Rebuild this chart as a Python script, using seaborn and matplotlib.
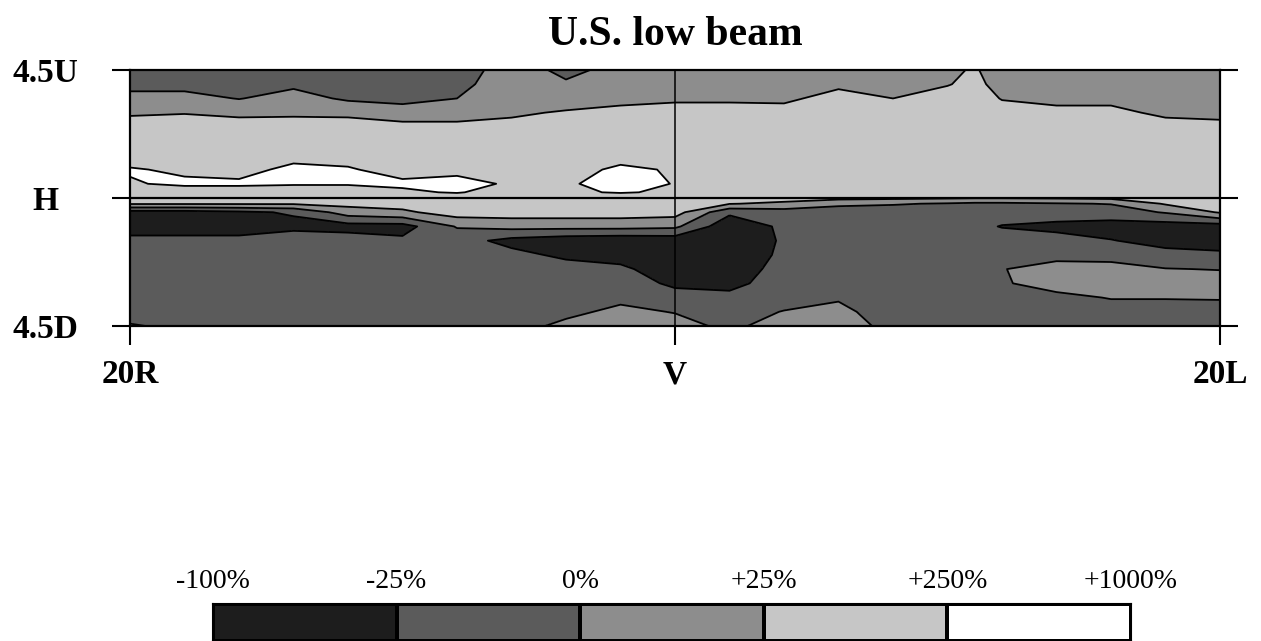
import numpy as np
import matplotlib
matplotlib.use("Agg")
import matplotlib.pyplot as plt
from matplotlib.colors import ListedColormap
import seaborn as sns

# horizontal angle (deg, negative = right) and vertical angle (deg, positive = up)
h_deg = [-20, -18, -16, -14, -12, -10, -8, -6, -4, -2, 0, 2, 4, 6, 8, 10, 11, 12, 14, 16, 18, 20]
v_deg = [4.5, 4.0, 3.5, 3.0, 2.5, 2.0, 1.5, 1.0, 0.5, 0.2, 0.0, -0.2, -0.5,
         -1.0, -1.5, -2.0, -2.5, -3.0, -3.5, -4.0, -4.5]

# percent change, one row per vertical angle (top to bottom)
change_pct = [
    [-12, -12, -12, -12, -15, -15, -8, 8, -4, 5, 5, 5, 8, 8, 12, 20, 48, 12, 12, 12, 12, 12],
    [-8, -8, -10, -5, -12, -12, -5, 10, 2, 10, 10, 10, 10, 21, 18, 24, 70, 18, 15, 15, 12, 12],
    [8, 8, -1, 10, -4, -8, 0, 15, 12, 20, 22, 22, 21, 92, 25, 92, 104, 24, 20, 20, 15, 15],
    [22, 24, 20, 21, 20, 12, 12, 21, 48, 70, 92, 92, 92, 115, 115, 115, 126, 92, 70, 70, 21, 20],
    [115, 115, 115, 115, 115, 92, 92, 92, 115, 115, 138, 138, 138, 138, 160, 160, 160, 138, 138, 138, 92, 70],
    [138, 138, 138, 160, 160, 160, 160, 160, 160, 160, 160, 160, 160, 160, 160, 160, 160, 160, 160, 160, 138, 138],
    [182, 182, 160, 205, 205, 182, 182, 182, 182, 205, 205, 182, 160, 160, 160, 160, 160, 160, 160, 160, 160, 160],
    [288, 228, 205, 362, 288, 205, 205, 205, 205, 325, 239, 182, 160, 160, 160, 160, 160, 160, 160, 160, 160, 160],
    [239, 325, 325, 288, 288, 325, 438, 228, 228, 475, 243, 182, 160, 160, 160, 160, 160, 160, 160, 160, 160, 160],
    [160, 182, 182, 182, 182, 228, 288, 182, 228, 288, 228, 171, 160, 160, 160, 160, 160, 160, 160, 160, 160, 160],
    [138, 138, 138, 138, 138, 160, 160, 160, 160, 160, 160, 138, 115, 92, 70, 48, 36, 36, 48, 70, 115, 138],
    [48, 48, 48, 48, 92, 115, 138, 138, 138, 138, 138, 36, 20, 5, 2, -2, -5, -5, -2, 1, 48, 115],
    [-55, -55, -40, -22, 12, 20, 138, 138, 138, 138, 115, -20, -12, -12, -12, -10, -12, -12, -15, -12, 2, 48],
    [-62, -62, -62, -48, -55, -55, 2, 8, 8, 8, 5, -78, -20, -12, -12, -10, -18, -29, -40, -55, -62, -62],
    [-18, -18, -18, -8, -12, -20, -15, -48, -70, -78, -70, -78, -22, -12, -12, -10, -10, -12, -18, -24, -48, -62],
    [-12, -12, -12, -12, -12, -12, -12, -18, -40, -55, -78, -78, -20, -12, -12, -8, -8, -8, -8, -4, -18, -20],
    [-12, -12, -12, -12, -12, -12, -12, -12, -15, -20, -70, -70, -15, -12, -12, -5, -2, -1, 10, 4, 1, -1],
    [-12, -12, -12, -12, -12, -12, -12, -12, -12, -12, -40, -48, -12, -12, -12, -6, -5, -2, 8, 12, 15, 12],
    [-12, -12, -12, -12, -12, -12, -12, -12, -12, -5, -15, -18, -10, -2, -10, -10, -10, -8, -5, 1, 1, 1],
    [-10, -10, -10, -12, -12, -12, -10, -10, -5, 5, -1, -10, 1, 5, -10, -12, -12, -10, -10, -8, -8, -5],
    [2, -5, -8, -10, -10, -10, -10, -8, 5, 10, 8, -5, 10, 8, -5, -12, -12, -10, -10, -10, -10, -10],
]

band_edges = [-100, -25, 0, 25, 250, 1000]
band_labels = ["-100%", "-25%", "0%", "+25%", "+250%", "+1000%"]
band_colors = ["#1d1d1d", "#5b5b5b", "#8d8d8d", "#c6c6c6", "#ffffff"]

x_ticks = [-20, 0, 20]
x_labels = ["20R", "V", "20L"]
y_ticks = [-4.5, 0, 4.5]
y_labels = ["4.5D", "H", "4.5U"]

sns.set_theme(style="white")
plt.rcParams["font.family"] = ["Liberation Serif", "DejaVu Serif"]
plt.rcParams["text.color"] = "black"
plt.rcParams["axes.labelcolor"] = "black"
plt.rcParams["xtick.color"] = "black"
plt.rcParams["ytick.color"] = "black"

W, H = 1261, 641
fig = plt.figure(figsize=(W / 100, H / 100), dpi=100)

# main contour panel
ax = fig.add_axes([130 / W, 1 - 326 / H, 1090 / W, 256 / H])
# the legend bands are equally spaced, so contour on the band position
pos = np.interp(np.array(change_pct, dtype=float), band_edges, np.arange(len(band_edges)))
ax.contourf(h_deg, v_deg, pos, levels=np.arange(len(band_edges)), colors=band_colors)
ax.contour(h_deg, v_deg, pos, levels=[1, 2, 3, 4], colors="black", linewidths=1.3)
ax.axhline(0, color="black", lw=1.6)
ax.axvline(0, color="black", lw=1.1)

ax.set_xlim(-20, 20)
ax.set_ylim(-4.5, 4.5)
ax.set_xticks(x_ticks)
ax.set_xticklabels(x_labels, fontsize=24, fontweight="bold", color="black")
ax.set_yticks(y_ticks)
ax.set_yticklabels(y_labels, fontsize=24, fontweight="bold", ha="center", color="black")
ax.tick_params(axis="y", direction="out", length=13, width=1.5, color="black",
               left=True, right=True, pad=48)
ax.tick_params(axis="x", direction="out", length=14, width=1.5, color="black",
               bottom=True, pad=10)
for s in ax.spines.values():
    s.set_visible(True)
    s.set_color("black")
    s.set_linewidth(1.6)
ax.set_title("U.S. low beam", fontsize=30, fontweight="bold", pad=18, color="black")

# legend bar
cax = fig.add_axes([213 / W, 0, 918 / W, 37 / H])
sns.heatmap([list(range(len(band_colors)))], cmap=ListedColormap(band_colors),
            vmin=-0.5, vmax=len(band_colors) - 0.5, cbar=False,
            linewidths=1.5, linecolor="black", ax=cax,
            xticklabels=False, yticklabels=False)
cax.set_xticks(np.arange(len(band_labels)))
cax.set_xticklabels(band_labels, fontsize=20, color="black")
cax.xaxis.tick_top()
cax.tick_params(axis="x", length=0, pad=7)
for s in cax.spines.values():
    s.set_visible(True)
    s.set_color("black")
    s.set_linewidth(1.5)

fig.savefig("out.png", dpi=100)
